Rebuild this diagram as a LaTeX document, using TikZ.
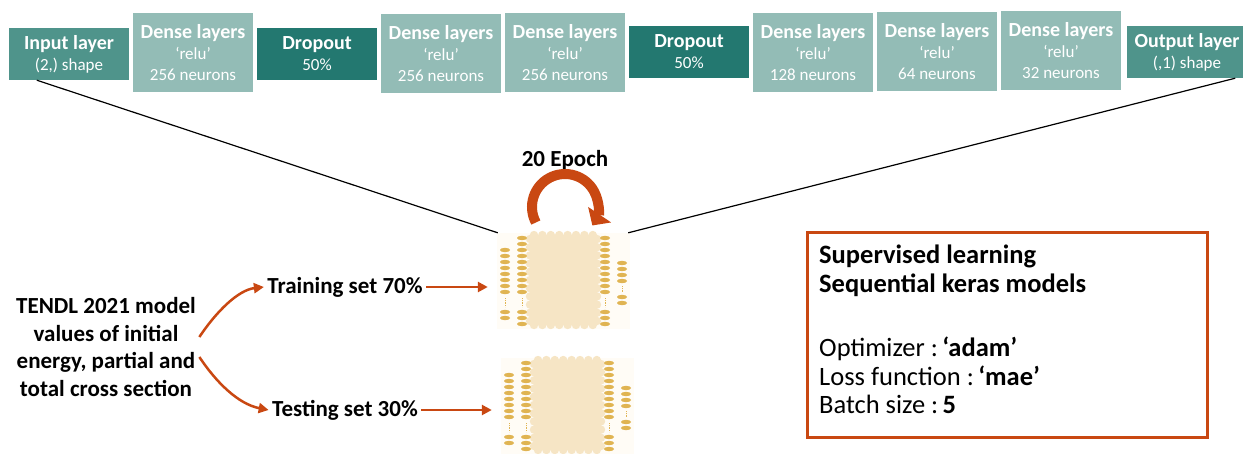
\documentclass[tikz,border=0pt]{standalone}
\usepackage{fontspec}
\setmainfont{Carlito}
\usetikzlibrary{arrows.meta,calc}

\definecolor{tealmid}{RGB}{79,148,139}
\definecolor{teallight}{RGB}{147,188,182}
\definecolor{tealdark}{RGB}{35,120,112}
\definecolor{rust}{RGB}{201,72,18}
\definecolor{beige}{RGB}{246,229,197}
\definecolor{gold}{RGB}{224,180,82}
\definecolor{haze}{RGB}{255,252,246}

\newcommand\layertitle[1]{{\fontsize{20}{21}\selectfont\bfseries #1}}

\tikzset{
  layer/.style={rectangle, inner sep=0pt, minimum width=120pt, text=white,
    align=center, font=\fontsize{17}{21}\selectfont},
  layerin/.style={layer, fill=tealmid, minimum height=52pt},
  layerdense/.style={layer, fill=teallight, minimum height=79pt},
  layerdrop/.style={layer, fill=tealdark, minimum height=52pt},
  guide/.style={draw=black, line width=1.2pt},
  flow/.style={draw=rust, line width=2.5pt, -{Triangle[length=10pt,width=10pt]}},
  label/.style={font=\fontsize{23}{27.5}\selectfont\bfseries, align=center},
  netarea/.style={inner sep=0pt, minimum width=133pt, minimum height=97pt},
  neuron/.style={fill=gold},
  % a small neural-network icon: hidden block with neuron columns
  netpic/.pic={
    \fill[haze] (0,0) rectangle (133,96);
    \fill[beige] (33,2) rectangle (100,92);
    \foreach \x in {37,45.4,...,97} {
      \fill[beige] (\x,2) circle (4.2);
      \fill[beige] (\x,92) circle (4.2);
    }
    \foreach \y in {6,14.2,...,90} {
      \fill[beige] (33,\y) circle (4.2);
      \fill[beige] (100,\y) circle (4.2);
    }
    \foreach \y in {17,23,...,59,79,85}
      \fill[neuron] (8,\y) ellipse [x radius=5, y radius=2.2];
    \foreach \cx in {25,108} {
      \foreach \y in {5,11,...,59,79,85,91}
        \fill[neuron] (\cx,\y) ellipse [x radius=5, y radius=2.2];
      \draw[gold, densely dotted, line width=0.8pt] (\cx,65) -- (\cx,74);
    }
    \draw[gold, densely dotted, line width=0.8pt] (8,65) -- (8,74);
    \foreach \y in {30,36,42,48,64,70}
      \fill[neuron] (125,\y) ellipse [x radius=5, y radius=2.2];
    \draw[gold, densely dotted, line width=0.8pt] (125,53) -- (125,60);
  }
}

\begin{document}
\begin{tikzpicture}[x=1pt,y=-1pt]
\path[use as bounding box, clip] (0,0) rectangle (1243,453);

% network layers
\node[layerin]    (inp)  at (69,54)     {\layertitle{Input layer}\\(2,) shape};
\node[layerdense] (d1)   at (193,52.5)  {\layertitle{Dense layers}\\‘relu’\\256 neurons};
\node[layerdrop]  (do1)  at (317,54)    {\layertitle{Dropout}\\50\%};
\node[layerdense] (d2)   at (441,53.5)  {\layertitle{Dense layers}\\‘relu’\\256 neurons};
\node[layerdense] (d3)   at (565,52.5)  {\layertitle{Dense layers}\\‘relu’\\256 neurons};
\node[layerdrop]  (do2)  at (689,52)    {\layertitle{Dropout}\\50\%};
\node[layerdense] (d4)   at (813,52.5)  {\layertitle{Dense layers}\\‘relu’\\128 neurons};
\node[layerdense] (d5)   at (937,51.5)  {\layertitle{Dense layers}\\‘relu’\\64 neurons};
\node[layerdense] (d6)   at (1061,50.5) {\layertitle{Dense layers}\\‘relu’\\32 neurons};
\node[layerin]    (outl) at (1187,52)   {\layertitle{Output layer}\\(,1) shape};

% network icons
\pic at (497,233) {netpic};
\pic at (501,358) {netpic};
\node[netarea] (net1) at (563.5,281.5) {};
\node[netarea] (net2) at (567.5,406.5) {};

% zoom lines from the layer strip to the training network
\draw[guide] ([xshift=28pt]inp.south west) -- ([xshift=1pt]net1.north west);
\draw[guide] ([xshift=-12pt]outl.south east) -- ([xshift=-2pt]net1.north east);

% epoch loop
\node[label] (epoch) at (565,160) {20 Epoch};
\draw[rust, line width=10pt, -{Triangle[length=13pt,width=27pt]}]
  (565,207) ++(152:33) arc[start angle=152, end angle=394, radius=33];

% data split
\node[label] (src) at (106,347) {TENDL 2021 model\\values of initial\\energy, partial and\\total cross section};
\node[label] (train) at (345,287) {Training set 70\%};
\node[label] (test)  at (345,410) {Testing set 30\%};

\draw[flow] ([yshift=10pt]src.east) .. controls (216,312) and (238,290) .. (train.west);
\draw[flow] ([yshift=-10pt]src.east) .. controls (216,382) and (238,404) .. (test.west);
\draw[flow, shorten >=9pt] (train.east) -- (train.east -| net1.west);
\draw[flow, shorten >=9pt] (test.east) -- (test.east -| net2.west);

% model settings
\node[draw=rust, line width=3pt, minimum width=400pt, minimum height=205pt, inner sep=0pt]
  (cfg) at (1007,334.5) {};
\node[anchor=north west, align=left, inner sep=0pt, font=\fontsize{26.5}{28.5}\selectfont]
  (cfgtext) at (819,245)
  {\textbf{Supervised learning}\\
   \textbf{Sequential keras models}\\[36pt]
   Optimizer :\,\textbf{‘adam’}\\
   Loss function :\,\textbf{‘mae’}\\
   Batch size :\,\textbf{5}};
\end{tikzpicture}
\end{document}
